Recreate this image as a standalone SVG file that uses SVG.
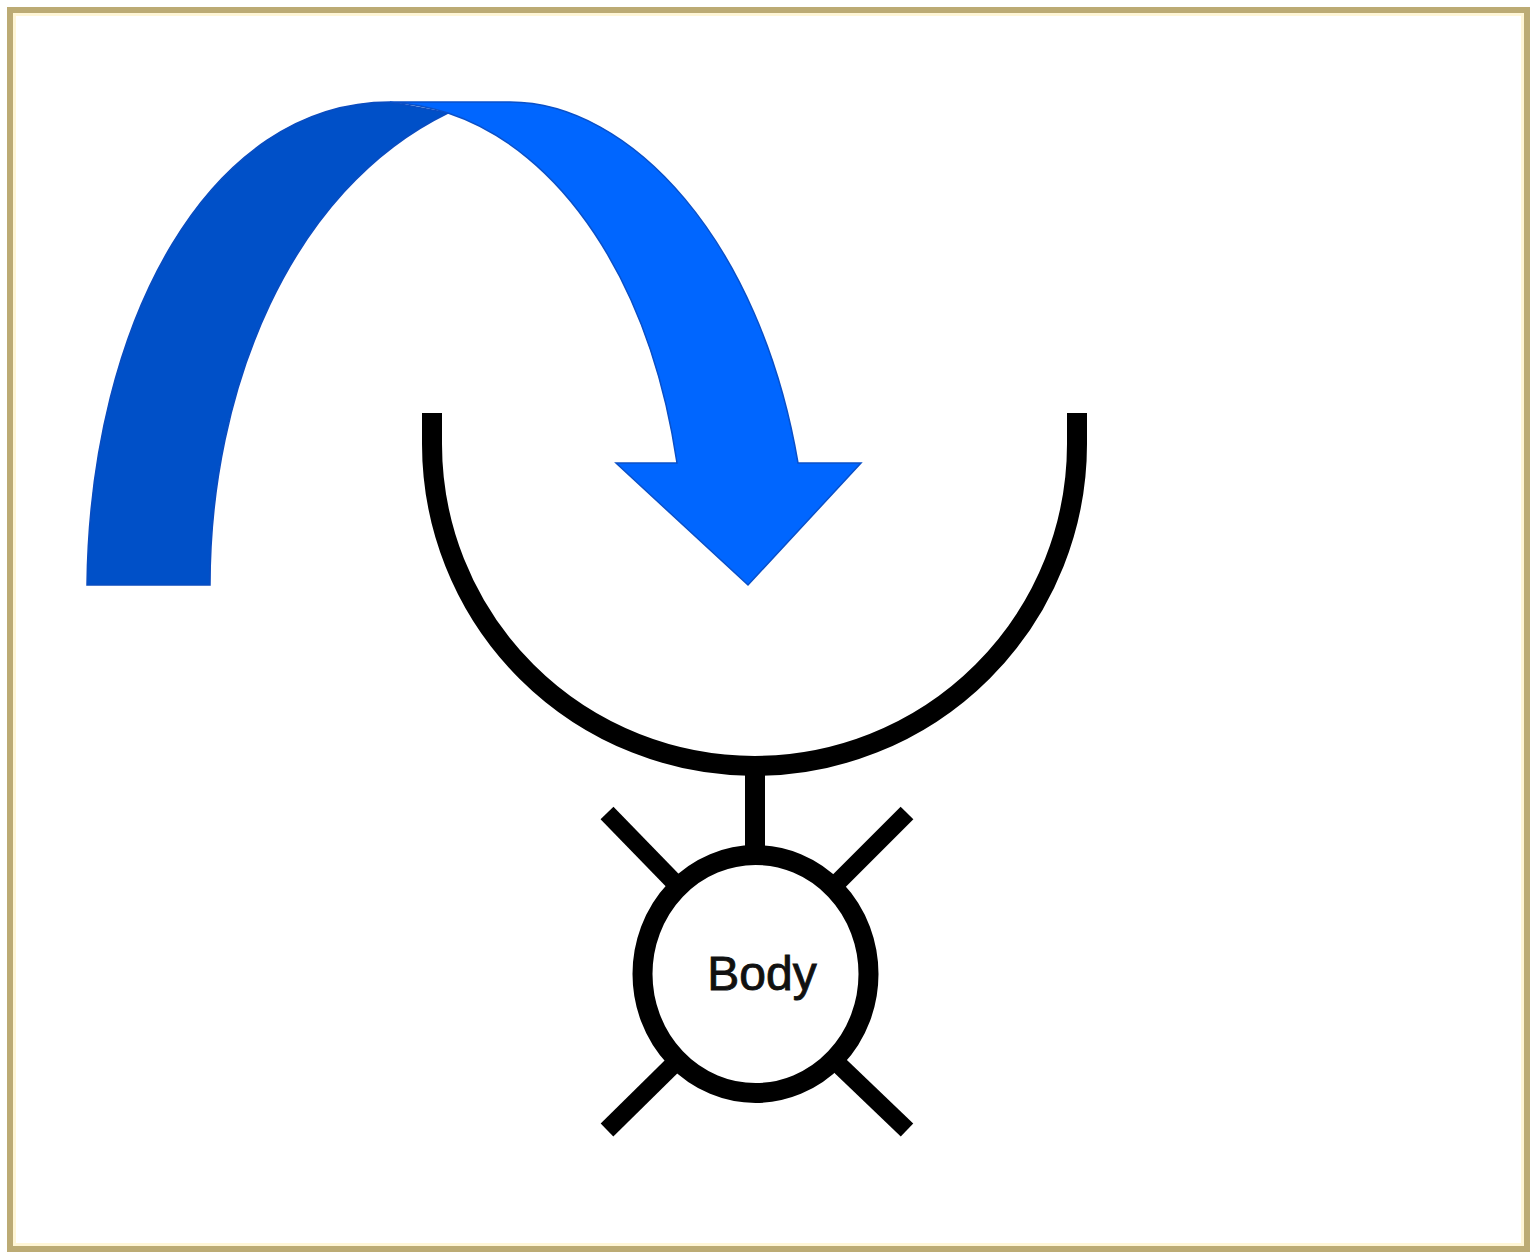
<svg xmlns="http://www.w3.org/2000/svg" width="1534" height="1258" viewBox="0 0 1534 1258">
  <style>
    .ink { fill: none; stroke: #000; stroke-width: 20; }
    .spoke { stroke: #000; stroke-width: 18; stroke-linecap: butt; }
    .label { font-family: "Liberation Sans", Arial, sans-serif; font-size: 48px; fill: #111; stroke: #111; stroke-width: 0.9; }
    .back { fill: #0050c8; stroke: #0a4cc0; stroke-width: 1.5; }
    .front { fill: #0066ff; stroke: #0a50c8; stroke-width: 1.5; }
  </style>
  <rect x="0" y="0" width="1534" height="1258" fill="#fff"/>
  <g id="frame">
    <rect x="14" y="14" width="1509" height="1231" fill="none" stroke="#fff6d6" stroke-width="4"/>
    <rect x="10" y="10" width="1517" height="1239" fill="none" stroke="#bcab74" stroke-width="6"/>
  </g>
  <g id="cup">
    <path class="ink" d="M432,413 L432,444 A322.5,322 0 0 0 1077,444 L1077,413"/>
  </g>
  <g id="body">
    <line class="ink" x1="755" y1="760" x2="755" y2="856"/>
    <line class="spoke" x1="607" y1="813" x2="676" y2="884"/>
    <line class="spoke" x1="907" y1="813" x2="836" y2="884"/>
    <line class="spoke" x1="607" y1="1130" x2="676" y2="1062"/>
    <line class="spoke" x1="907" y1="1130" x2="836" y2="1062"/>
    <ellipse cx="755.5" cy="974" rx="113" ry="119" fill="#fff" stroke="#000" stroke-width="20"/>
    <text class="label" x="762" y="990" text-anchor="middle">Body</text>
  </g>
  <g id="connectors">
    <path class="back" d="M87,585 C90,320 210,102 390,102 L448,113 C290,190 210,390 210,585 Z"/>
    <path class="front" d="M390,102 L510,102 C630,102 760,240 798,463 L861,463 L748,585 L616,463 L677,463 C650,280 560,150 448,113 Q420,104 390,102 Z"/>
  </g>
</svg>
